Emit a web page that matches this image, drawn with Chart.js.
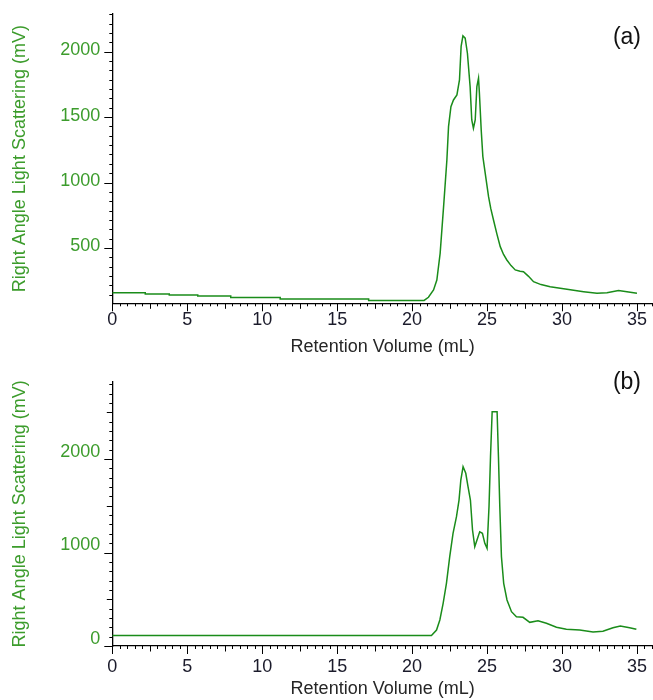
<!DOCTYPE html>
<html><head><meta charset="utf-8">
<script src="https://cdn.jsdelivr.net/npm/chart.js@4.4.1/dist/chart.umd.min.js"></script>
<style>
html,body{margin:0;padding:0;background:#fff;}
#wrapA{position:absolute;left:0;top:0;width:653px;height:360px;}
#wrapB{position:absolute;left:0;top:360px;width:653px;height:340px;}
canvas{display:block;}
</style></head><body>
<div id="wrapA"><canvas id="chartA" width="653" height="360" style="width:653px;height:360px"></canvas></div>
<div id="wrapB"><canvas id="chartB" width="653" height="340" style="width:653px;height:340px"></canvas></div>
<script>
// ---- data ----
const volA = [0, 2.2, 2.2, 3.8, 3.8, 5.7, 5.7, 7.9, 7.9, 11.2, 11.2, 17.1, 17.1, 20.8,
  21.09, 21.43, 21.65, 21.87, 22.1, 22.32, 22.43, 22.59, 22.76, 22.99, 23.16, 23.27, 23.39,
  23.54, 23.69, 23.87, 23.98, 24.09, 24.21, 24.32, 24.43, 24.49, 24.61, 24.72, 24.94, 25.1,
  25.25, 25.43, 25.65, 25.88, 26.1, 26.32, 26.6, 26.88, 27.2, 27.43, 27.75, 28.1, 28.6, 29.21,
  30.33, 31.44, 32.33, 33.0, 33.77, 34.33, 35.0];
const signalA = [158, 158, 148, 148, 140, 140, 132, 132, 121, 121, 110, 110, 99, 99,
  123, 179, 255, 459, 816, 1172, 1427, 1580, 1631, 1669, 1784, 2040, 2121,
  2103, 1988, 1733, 1478, 1415, 1478, 1733, 1797, 1682, 1402, 1198, 1020, 892,
  800, 714, 610, 510, 450, 408, 365, 332, 322, 319, 285, 242, 220, 204,
  184, 166, 153, 158, 174, 166, 153];

const volB = [0, 21.29, 21.63, 21.85, 22.07, 22.29, 22.51, 22.73, 22.96, 23.13, 23.25, 23.4,
  23.58, 23.73, 23.89, 24.03, 24.18, 24.29, 24.51, 24.69, 24.85, 25.0, 25.13, 25.23, 25.34,
  25.67, 25.76, 25.85, 25.96, 26.11, 26.33, 26.63, 26.96, 27.4, 27.85, 28.4, 28.96, 29.63,
  30.29, 31.18, 32.07, 32.73, 33.4, 33.89, 34.51, 34.96];
const signalB = [112, 112, 171, 278, 456, 670, 955, 1205, 1383, 1561, 1775, 1918,
  1847, 1704, 1561, 1241, 1062, 1115, 1222, 1205, 1098, 1045, 1490, 2025, 2506,
  2506, 2025, 1490, 955, 670, 492, 367, 313, 307, 253, 271, 243, 200,
  179, 171, 150, 157, 196, 214, 196, 179];

const xTickLabels = [0, 5, 10, 15, 20, 25, 30, 35];
const yTicksA = [500, 1000, 1500, 2000];
const yTicksB = [0, 1000, 2000];

// ---- style ----
const FONT = "'Liberation Sans', Arial, sans-serif";
const LINE = '#1a8c1a';
const GREEN = '#3c9c2c';
const XLAB = '#1b1b2b';

const tickPlugin = {
  id: 'customTicks',
  afterDraw(chart, args, o) {
    const ctx = chart.ctx, xs = chart.scales.x, ys = chart.scales.y;
    ctx.save();
    ctx.strokeStyle = '#000';
    ctx.lineWidth = 1;
    ctx.beginPath();
    for (let k = 0; k <= 80; k++) {
      const v = k * 0.5;
      if (v > xs.max) break;
      const len = k % 10 === 0 ? 8 : (k % 5 === 0 ? 5.5 : 3);
      const px = Math.round(xs.getPixelForValue(v)) + 0.5;
      ctx.moveTo(px, xs.top);
      ctx.lineTo(px, xs.top + len);
    }
    const k0 = Math.ceil(ys.min / o.minor - 1e-6), k1 = Math.floor(ys.max / o.minor + 1e-6);
    for (let k = k0; k <= k1; k++) {
      const v = k * o.minor;
      const len = k % o.major === 0 ? 8 : (o.medium && k % o.medium === 0 ? 5.5 : 3);
      const py = Math.round(ys.getPixelForValue(v)) + 0.5;
      ctx.moveTo(ys.right, py);
      ctx.lineTo(ys.right - len, py);
    }
    ctx.stroke();
    ctx.restore();
  }
};

const panelLabelPlugin = {
  id: 'panelLabel',
  afterDraw(chart, args, o) {
    const ctx = chart.ctx;
    ctx.save();
    ctx.fillStyle = '#111';
    ctx.font = "23px " + FONT;
    ctx.textAlign = 'right';
    ctx.textBaseline = 'middle';
    ctx.fillText(o.text, o.x, o.y);
    ctx.restore();
  }
};

function makeChart(id, xs, ys, c) {
  const pts = xs.map((x, i) => ({x: x, y: ys[i]}));
  return new Chart(document.getElementById(id), {
    type: 'line',
    data: {datasets: [{data: pts, borderColor: LINE, borderWidth: 1.5, pointRadius: 0, tension: 0, fill: false}]},
    options: {
      responsive: false, animation: false, devicePixelRatio: 1,
      layout: {padding: {left: 0, right: 0, top: c.padTop, bottom: 0}},
      plugins: {
        legend: {display: false}, tooltip: {enabled: false},
        customTicks: {minor: c.minor, major: c.major, medium: c.medium},
        panelLabel: {text: c.label, x: 641, y: c.labelY}
      },
      scales: {
        x: {
          type: 'linear', min: 0, max: 36.07,
          afterBuildTicks: s => { s.ticks = xTickLabels.map(v => ({value: v})); },
          afterFit: s => { s.height = c.xHeight; s.paddingLeft = 0; s.paddingRight = 0; },
          grid: {display: true, drawOnChartArea: false, drawTicks: false},
          border: {display: true, color: '#000', width: 1.3},
          ticks: {padding: c.xTickPad, color: XLAB, font: {family: FONT, size: 18}, maxRotation: 0, autoSkip: false,
                  callback: v => String(v)},
          title: {display: true, text: 'Retention Volume (mL)', color: '#262626', font: {family: FONT, size: 18},
                  padding: {top: 0, bottom: c.xTitlePad}}
        },
        y: {
          type: 'linear', min: c.yMin, max: c.yMax,
          afterBuildTicks: s => { s.ticks = c.yTicks.map(v => ({value: v})); },
          afterFit: s => { s.width = 112.3; s.paddingTop = 0; s.paddingBottom = 0; },
          grid: {display: true, drawOnChartArea: false, drawTicks: false},
          border: {display: true, color: '#000', width: 1.3},
          ticks: {padding: 12, labelOffset: c.yLabelOffset, color: GREEN, font: {family: FONT, size: 18},
                  autoSkip: false, callback: v => String(v)},
          title: {display: true, text: 'Right Angle Light Scattering (mV)', color: GREEN, font: {family: FONT, size: 18},
                  padding: {top: 9.5, bottom: 0}}
        }
      }
    },
    plugins: [tickPlugin, panelLabelPlugin]
  });
}

makeChart('chartA', volA, signalA, {
  padTop: 14, xHeight: 56.7, xTickPad: 6, xTitlePad: 2.2,
  yMin: 77, yMax: 2288, yTicks: yTicksA, yLabelOffset: -1.5,
  minor: 500 / 7, major: 7, medium: 0, label: '(a)', labelY: 37.5
});
makeChart('chartB', volB, signalB, {
  padTop: 21.7, xHeight: 54, xTickPad: 10.7, xTitlePad: 0,
  yMin: 0, yMax: 2827, yTicks: yTicksB, yLabelOffset: -7,
  minor: 100, major: 10, medium: 5, label: '(b)', labelY: 23
});
</script>
</body></html>
